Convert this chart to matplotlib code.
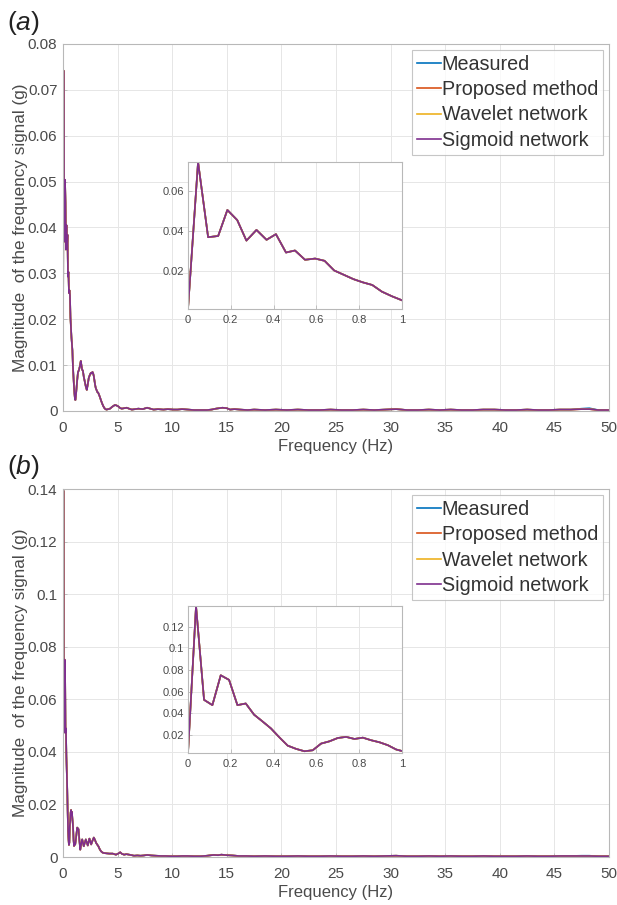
import numpy as np
import matplotlib
matplotlib.use("Agg")
import matplotlib.pyplot as plt
from matplotlib.ticker import FuncFormatter

plt.rcParams['font.family'] = ['Liberation Sans', 'DejaVu Sans']
plt.rcParams['mathtext.fontset'] = 'custom'
plt.rcParams['mathtext.it'] = 'Liberation Sans:italic'
plt.rcParams['mathtext.rm'] = 'Liberation Sans'

# ---- data ----
labels = ['Measured', 'Proposed method', 'Wavelet network', 'Sigmoid network']
colors = ['#0072BD', '#D95319', '#EDB120', '#7E2F8E']

# panel (a): spectrum up to 1 Hz (inset resolution), then coarser points
freq_a_low = [0, 0.047, 0.094, 0.141, 0.184, 0.23, 0.273, 0.32, 0.367, 0.411, 0.458, 0.5,
              0.547, 0.594, 0.638, 0.683, 0.727, 0.773, 0.817, 0.861, 0.906, 0.953, 1.0,
              1.05, 1.1, 1.14, 1.19, 1.28, 1.37, 1.47, 1.55, 1.63, 1.7, 1.75, 1.82, 1.9,
              2.0, 2.1, 2.18, 2.27, 2.36, 2.45, 2.55, 2.63, 2.7, 2.76, 2.82, 2.88, 2.94,
              3.0, 3.07, 3.15, 3.22, 3.3, 3.37, 3.48, 3.59, 3.68, 3.77, 3.88, 3.99, 4.15,
              4.3, 4.5, 4.75, 4.9, 5.06, 5.2, 5.37, 5.6, 5.83, 6.05, 6.3, 6.6, 6.9, 7.3,
              7.7, 8.0, 8.3, 8.7, 9.2, 9.6, 10.1, 10.5, 10.9, 11.4, 12.0, 12.6, 13.2, 13.6,
              14.0, 14.3, 14.6, 15.0, 15.3, 15.7, 16.2, 16.9]
mag_a_low = [0.0013, 0.0742, 0.0369, 0.0375, 0.0504, 0.0454, 0.0352, 0.0405, 0.0356, 0.0384,
             0.0293, 0.0303, 0.0257, 0.0263, 0.0252, 0.0204, 0.0183, 0.0161, 0.0145, 0.0132,
             0.0099, 0.0076, 0.0056,
             0.0038, 0.0025, 0.0024, 0.0035, 0.0062, 0.0084, 0.0090, 0.0098, 0.0109, 0.0097,
             0.0090, 0.0088, 0.0075, 0.0064, 0.0052, 0.0046, 0.0058, 0.0072, 0.0078, 0.0083,
             0.0082, 0.0085, 0.0082, 0.0076, 0.0066, 0.0057, 0.0050, 0.0046, 0.0041, 0.0040,
             0.0035, 0.0031, 0.0023, 0.0016, 0.0011, 0.0007, 0.0004, 0.0003, 0.0004, 0.0005,
             0.0009, 0.0013, 0.0012, 0.0010, 0.0007, 0.0005, 0.0006, 0.0007, 0.0005, 0.0003,
             0.0004, 0.0005, 0.0004, 0.0007, 0.0005, 0.0003, 0.0004, 0.0003, 0.0004, 0.0003,
             0.0003, 0.0004, 0.0003, 0.0002, 0.0002, 0.0002, 0.0003, 0.0005, 0.0006, 0.0007,
             0.0006, 0.0003, 0.0004, 0.0003, 0.0002]
freq_tail = [17.5, 18.5, 19.5, 20.5, 21.5, 22.5, 23.5, 24.5, 25.5, 26.5, 27.5, 28.5, 29.5,
             30.5, 31.5, 32.5, 33.5, 34.5, 35.5, 36.5, 37.5, 38.5, 39.5, 40.5, 41.5, 42.5,
             43.5, 44.5, 45.5, 46.5, 47.5, 48.2, 49.0, 50.0]
tail_meas_a = [0.0003, 0.0002, 0.0003, 0.0002, 0.0003, 0.0002, 0.0002, 0.0003, 0.0002, 0.0002,
               0.0003, 0.0002, 0.0003, 0.0004, 0.0002, 0.0002, 0.0003, 0.0002, 0.0003, 0.0002,
               0.0002, 0.0003, 0.0003, 0.0002, 0.0002, 0.0003, 0.0002, 0.0002, 0.0003, 0.0003,
               0.0005, 0.0006, 0.0002, 0.0002]
tail_model_a = [0.0003, 0.0002, 0.0003, 0.0002, 0.0003, 0.0002, 0.0002, 0.0003, 0.0002, 0.0002,
                0.0003, 0.0002, 0.0003, 0.0004, 0.0002, 0.0002, 0.0003, 0.0002, 0.0003, 0.0002,
                0.0002, 0.0003, 0.0003, 0.0002, 0.0002, 0.0003, 0.0002, 0.0002, 0.0003, 0.0003,
                0.0004, 0.0004, 0.0002, 0.0002]

# panel (b)
freq_b_low = [0, 0.0375, 0.075, 0.114, 0.153, 0.192, 0.231, 0.27, 0.309, 0.348, 0.3875, 0.427,
              0.466, 0.505, 0.544, 0.583, 0.622, 0.661, 0.7, 0.739, 0.778, 0.817, 0.856, 0.895,
              0.934, 0.973, 1.012,
              1.06, 1.12, 1.2, 1.3, 1.42, 1.5, 1.58, 1.67, 1.76, 1.83, 1.9, 2.0, 2.09, 2.18,
              2.27, 2.35, 2.42, 2.5, 2.58, 2.7, 2.82, 2.93, 3.03, 3.14, 3.24, 3.36, 3.48, 3.62,
              3.79, 4.0, 4.24, 4.55, 4.85, 5.05, 5.24, 5.4, 5.6, 5.8, 6.06, 6.3, 6.5, 6.8, 7.1,
              7.4, 7.7, 8.1, 8.5, 9.0, 9.4, 9.9, 10.45, 10.9, 11.4, 12.0, 12.6, 13.2, 13.8,
              14.2, 14.5, 15.0, 15.5, 16.1, 16.8]
mag_b_low = [0.0030, 0.1394, 0.0523, 0.0474, 0.0751, 0.0708, 0.0474, 0.0489, 0.0385, 0.0323,
             0.0258, 0.0175, 0.0098, 0.0068, 0.0046, 0.0055, 0.0117, 0.0138, 0.0169, 0.0179,
             0.0160, 0.0172, 0.0148, 0.0129, 0.0102, 0.0062, 0.0042,
             0.0047, 0.0048, 0.0075, 0.0112, 0.0106, 0.0065, 0.0028, 0.0050, 0.0067, 0.0055,
             0.0041, 0.0055, 0.0067, 0.0055, 0.0044, 0.0058, 0.0070, 0.0060, 0.0048, 0.0062,
             0.0074, 0.0065, 0.0054, 0.0047, 0.0041, 0.0030, 0.0022, 0.0017, 0.0015, 0.0014,
             0.0013, 0.0013, 0.0009, 0.0013, 0.0018, 0.0012, 0.0009, 0.0011, 0.0009, 0.0007,
             0.0005, 0.0006, 0.0005, 0.0006, 0.0008, 0.0006, 0.0005, 0.0004, 0.0004, 0.0003,
             0.0003, 0.0004, 0.0004, 0.0003, 0.0003, 0.0005, 0.0008, 0.0007, 0.0009, 0.0007,
             0.0006, 0.0004, 0.0004]
tail_meas_b = [0.0003, 0.0004, 0.0003, 0.0003, 0.0004, 0.0003, 0.0003, 0.0004, 0.0003, 0.0003,
               0.0004, 0.0003, 0.0004, 0.0005, 0.0003, 0.0003, 0.0004, 0.0003, 0.0004, 0.0003,
               0.0003, 0.0004, 0.0003, 0.0003, 0.0003, 0.0004, 0.0003, 0.0003, 0.0004, 0.0004,
               0.0005, 0.0005, 0.0003, 0.0003]
tail_model_b = [0.0003, 0.0004, 0.0003, 0.0003, 0.0004, 0.0003, 0.0003, 0.0004, 0.0003, 0.0003,
                0.0004, 0.0003, 0.0004, 0.0005, 0.0003, 0.0003, 0.0004, 0.0003, 0.0004, 0.0003,
                0.0003, 0.0004, 0.0003, 0.0003, 0.0003, 0.0004, 0.0003, 0.0003, 0.0004, 0.0004,
                0.0004, 0.0004, 0.0003, 0.0003]

yticks_a = [0, 0.01, 0.02, 0.03, 0.04, 0.05, 0.06, 0.07, 0.08]
yticks_b = [0, 0.02, 0.04, 0.06, 0.08, 0.1, 0.12, 0.14]
xticks_main = [0, 5, 10, 15, 20, 25, 30, 35, 40, 45, 50]
xticks_inset = [0, 0.2, 0.4, 0.6, 0.8, 1]
inset_yticks_a = [0.02, 0.04, 0.06]
inset_yticks_b = [0.02, 0.04, 0.06, 0.08, 0.1, 0.12]

TXT = '#4a4a4a'
EDGE = '#b8b8b8'
GRID = '#e6e6e6'

fmt = FuncFormatter(lambda v, p: '0' if abs(v) < 1e-12 else f'{v:g}')


def style(ax, tick_size, xpad, ypad):
    for s in ax.spines.values():
        s.set_color(EDGE)
        s.set_linewidth(0.8)
    ax.tick_params(direction='in', length=3, width=0.6, color=EDGE,
                   labelcolor=TXT, labelsize=tick_size, top=False, right=False)
    ax.tick_params(axis='x', pad=xpad)
    ax.tick_params(axis='y', pad=ypad)
    ax.grid(True, color=GRID, linewidth=0.7)
    ax.set_axisbelow(True)
    ax.xaxis.set_major_formatter(fmt)
    ax.yaxis.set_major_formatter(fmt)


def series(low_f, low_m, tail_meas, tail_model):
    f = np.array(low_f + freq_tail)
    meas = np.array(low_m + tail_meas)
    model = np.array(low_m + tail_model)
    return f, [meas, model, model, model]


fig = plt.figure(figsize=(6.17, 9.05), dpi=100)

panels = [
    dict(rect=[0.1021, 0.5459, 0.885, 0.4055], inset=[0.3047, 0.6586, 0.3468, 0.1624],
         data=series(freq_a_low, mag_a_low, tail_meas_a, tail_model_a),
         ylim=0.08, yticks=yticks_a, iyticks=inset_yticks_a, tag='a', tag_y=0.99),
    dict(rect=[0.1021, 0.053, 0.885, 0.4066], inset=[0.3047, 0.168, 0.3468, 0.1624],
         data=series(freq_b_low, mag_b_low, tail_meas_b, tail_model_b),
         ylim=0.14, yticks=yticks_b, iyticks=inset_yticks_b, tag='b', tag_y=0.499),
]

for p in panels:
    f, ys = p['data']
    ax = fig.add_axes(p['rect'])
    for y, c, lab in zip(ys, colors, labels):
        ax.plot(f, y, color=c, lw=1.2, label=lab)
    ax.set_xlim(0, 50)
    ax.set_ylim(0, p['ylim'])
    ax.set_xticks(xticks_main)
    ax.set_yticks(p['yticks'])
    style(ax, 11, 7, 4)
    ax.set_xlabel('Frequency (Hz)', fontsize=12, color=TXT, labelpad=3)
    ax.set_ylabel('Magnitude  of the frequency signal (g)', fontsize=12.3, color=TXT, labelpad=0)
    leg = ax.legend(loc='upper right', fontsize=14.2, frameon=True, fancybox=False,
                    borderaxespad=0.3, handlelength=1.2, handletextpad=0.05,
                    labelspacing=0.32, borderpad=0.25)
    leg.get_frame().set_edgecolor(EDGE)
    leg.get_frame().set_linewidth(0.8)
    for t in leg.get_texts():
        t.set_color('#333333')

    # zoomed view of 0-1 Hz
    ins = fig.add_axes(p['inset'])
    mask = f <= 1.02
    for y, c in zip(ys, colors):
        ins.plot(f[mask], y[mask], color=c, lw=1.2)
    ins.set_xlim(0, 1)
    ins.set_ylim(min(ys[0][mask]), max(ys[0][mask]))
    ins.set_xticks(xticks_inset)
    ins.set_yticks(p['iyticks'])
    style(ins, 8, 4, 3)

    fig.text(0.012, p['tag_y'], r'($\mathit{' + p['tag'] + r'}$)', fontsize=19,
             color='#222222', va='top', ha='left')

fig.savefig('out.png', dpi=100)
